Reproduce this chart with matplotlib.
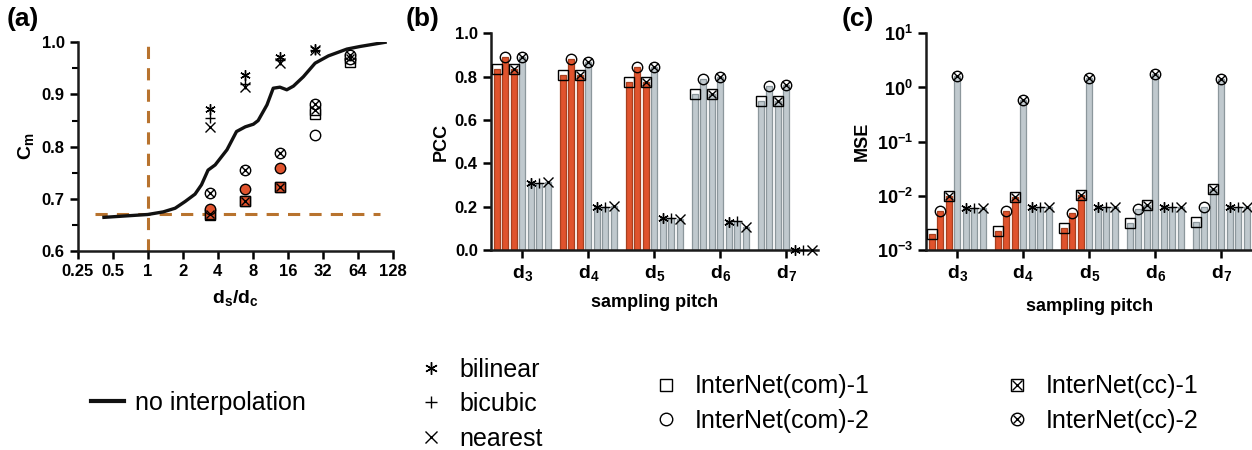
import numpy as np
import matplotlib
matplotlib.use("Agg")
import matplotlib.pyplot as plt
from matplotlib.lines import Line2D
from matplotlib.ticker import NullLocator, MultipleLocator

plt.rcParams['font.family'] = ['Liberation Sans', 'DejaVu Sans']
plt.rcParams['font.weight'] = 'bold'
plt.rcParams['mathtext.fontset'] = 'custom'
plt.rcParams['mathtext.rm'] = 'Liberation Sans:bold'
plt.rcParams['mathtext.it'] = 'Liberation Sans:bold'
plt.rcParams['mathtext.bf'] = 'Liberation Sans:bold'
plt.rcParams['mathtext.default'] = 'regular'

# ---- data ----
pitch_labels = ['$d_3$', '$d_4$', '$d_5$', '$d_6$', '$d_7$']
methods = ['InterNet(com)-1', 'InterNet(com)-2', 'InterNet(cc)-1', 'InterNet(cc)-2',
           'bilinear', 'bicubic', 'nearest']

# panel (a): curve without interpolation
curve_x = [0.42, 1.0, 1.36, 1.72, 2.1, 2.55, 2.9, 3.3, 3.8, 4.8, 5.8, 6.9, 8.1, 8.9,
           10.6, 12.0, 13.7, 15.7, 17.9, 21.8, 27.5, 35.8, 51.6, 67, 110]
curve_y = [0.6645, 0.670, 0.675, 0.682, 0.695, 0.709, 0.727, 0.755, 0.765, 0.794, 0.829,
           0.838, 0.843, 0.850, 0.880, 0.912, 0.914, 0.909, 0.916, 0.934, 0.960, 0.974,
           0.987, 0.992, 1.000]
ratio = [3.43, 6.87, 13.7, 27.5, 55]
cm_com1 = [0.669, 0.695, 0.722, 0.863, 0.963]
cm_com2 = [0.680, 0.718, 0.760, 0.822, 0.968]
cm_cc1 = [0.670, 0.695, 0.722, 0.870, 0.970]
cm_cc2 = [0.711, 0.755, 0.788, 0.882, 0.976]
cm_bil = [0.873, 0.937, 0.971, 0.987]
cm_bic = [0.854, 0.921, 0.966, 0.986]
cm_nea = [0.838, 0.914, 0.960, 0.986]

# panel (b): PCC
pcc_com1 = [0.834, 0.808, 0.777, 0.720, 0.689]
pcc_com2 = [0.889, 0.880, 0.846, 0.788, 0.758]
pcc_cc1 = [0.834, 0.808, 0.777, 0.720, 0.689]
pcc_cc2 = [0.890, 0.868, 0.846, 0.797, 0.763]
pcc_bil = [0.308, 0.200, 0.146, 0.131, 0.0]
pcc_bic = [0.310, 0.200, 0.146, 0.134, 0.0]
pcc_nea = [0.315, 0.205, 0.143, 0.108, 0.0]

# panel (c): MSE
mse_com1 = [2.0e-3, 2.24e-3, 2.58e-3, 3.1e-3, 3.33e-3]
mse_com2 = [5.3e-3, 5.3e-3, 4.75e-3, 5.7e-3, 6.1e-3]
mse_cc1 = [9.9e-3, 9.4e-3, 1.04e-2, 6.76e-3, 1.32e-2]
mse_cc2 = [1.65, 0.587, 1.5, 1.77, 1.44]
mse_bil = [5.9e-3, 6.3e-3, 6.3e-3, 6.3e-3, 6.3e-3]
mse_bic = [5.9e-3, 6.3e-3, 6.3e-3, 6.3e-3, 6.3e-3]
mse_nea = [5.9e-3, 6.3e-3, 6.3e-3, 6.3e-3, 6.3e-3]

RED = '#E0532D'
RED_EDGE = '#A8401F'
GRAY = '#C0C9CE'
GRAY_EDGE = '#8C979C'
BROWN = '#B8732E'

# marker styles per method: list of (marker, size scale)
mk = {
    'InterNet(com)-1': [('s', 1.0)],
    'InterNet(com)-2': [('o', 1.0)],
    'InterNet(cc)-1': [('s', 1.0), ('x', 0.75)],
    'InterNet(cc)-2': [('o', 1.0), ('x', 0.7)],
    'bilinear': [((6, 2, 0), 1.0)],
    'bicubic': [('+', 1.0)],
    'nearest': [('x', 1.0)],
}
MS = 7.5


def draw_markers(ax, x, y, name, face='none', zorder=4):
    for i, (m, s) in enumerate(mk[name]):
        fc = face if i == 0 else 'none'
        ax.plot(x, y, linestyle='none', marker=m, markersize=MS * s,
                markerfacecolor=fc, markeredgecolor='black', markeredgewidth=1.0,
                zorder=zorder + i, clip_on=False)


def style_axis(ax):
    for s in ['top', 'right']:
        ax.spines[s].set_visible(False)
    for s in ['left', 'bottom']:
        ax.spines[s].set_linewidth(1.8)
        ax.spines[s].set_color('#1a1a1a')
    ax.tick_params(which='major', direction='out', length=6, width=1.8, labelsize=12)
    ax.tick_params(which='minor', direction='out', length=4, width=1.5)
    for lab in ax.get_xticklabels() + ax.get_yticklabels():
        lab.set_fontweight('bold')


fig = plt.figure(figsize=(12.52, 4.5), dpi=100)

# ---- panel (a) ----
axa = fig.add_axes([0.0621, 0.4422, 0.2516, 0.4638])
axa.set_xscale('log', base=2)
axa.set_xlim(0.25, 128)
axa.set_ylim(0.6, 1.0)
xt = [0.25, 0.5, 1, 2, 4, 8, 16, 32, 64, 128]
axa.set_xticks(xt)
axa.set_xticklabels(['0.25', '0.5', '1', '2', '4', '8', '16', '32', '64', '128'])
axa.xaxis.set_minor_locator(NullLocator())
axa.set_yticks([0.6, 0.7, 0.8, 0.9, 1.0])
axa.set_yticklabels(['0.6', '0.7', '0.8', '0.9', '1.0'])
axa.yaxis.set_minor_locator(MultipleLocator(0.05))
axa.plot([1, 1], [0.6, 1.0], color=BROWN, lw=2.2, ls=(0, (4, 3)), zorder=2)
axa.plot([0.35, 100], [0.67, 0.67], color=BROWN, lw=2.2, ls=(0, (4, 3)), zorder=2)
axa.plot(curve_x, curve_y, color='#111111', lw=2.4, zorder=3)
n_red = 3
for name, vals in [('InterNet(com)-1', cm_com1), ('InterNet(cc)-1', cm_cc1),
                   ('InterNet(com)-2', cm_com2), ('InterNet(cc)-2', cm_cc2)]:
    for i, v in enumerate(vals):
        face = RED if (i < n_red and name != 'InterNet(cc)-2') else 'white'
        draw_markers(axa, ratio[i], v, name, face=face)
for name, vals in [('bilinear', cm_bil), ('bicubic', cm_bic), ('nearest', cm_nea)]:
    draw_markers(axa, ratio[:len(vals)], vals, name)
style_axis(axa)
axa.set_xlabel('$d_s/d_c$', fontsize=14, fontweight='bold', labelpad=6)
axa.set_ylabel('$C_m$', fontsize=14, fontweight='bold', labelpad=4)

# ---- bar panels ----
group_x = np.arange(len(pitch_labels))
step = 0.129
width = 0.09


def bar_panel(ax, series):
    for j, (name, vals) in enumerate(series):
        xs = group_x + (j - 3) * step
        for g, v in enumerate(vals):
            is_red = (g < 3 and j < 3)
            fc = RED if is_red else GRAY
            ec = RED_EDGE if is_red else GRAY_EDGE
            ax.bar(xs[g], v, width=width, color=fc, edgecolor=ec, linewidth=0.9, zorder=2)
        draw_markers(ax, xs, vals, name)
    ax.set_xticks(group_x)
    ax.set_xticklabels(pitch_labels, fontsize=14)
    ax.set_xlim(-0.474, 4.48)


axb = fig.add_axes([0.3922, 0.4444, 0.2612, 0.4816])
bar_panel(axb, [('InterNet(com)-1', pcc_com1), ('InterNet(com)-2', pcc_com2),
                ('InterNet(cc)-1', pcc_cc1), ('InterNet(cc)-2', pcc_cc2),
                ('bilinear', pcc_bil), ('bicubic', pcc_bic), ('nearest', pcc_nea)])
axb.set_ylim(0, 1.0)
axb.set_yticks([0.0, 0.2, 0.4, 0.6, 0.8, 1.0])
axb.set_yticklabels(['0.0', '0.2', '0.4', '0.6', '0.8', '1.0'])
style_axis(axb)
axb.tick_params(axis='x', labelsize=14)
axb.set_xlabel('sampling pitch', fontsize=13, fontweight='bold', labelpad=8)
axb.set_ylabel('PCC', fontsize=13, fontweight='bold', labelpad=4)

axc = fig.add_axes([0.7396, 0.4444, 0.2612, 0.4816])
axc.set_yscale('log')
bar_panel(axc, [('InterNet(com)-1', mse_com1), ('InterNet(com)-2', mse_com2),
                ('InterNet(cc)-1', mse_cc1), ('InterNet(cc)-2', mse_cc2),
                ('bilinear', mse_bil), ('bicubic', mse_bic), ('nearest', mse_nea)])
axc.set_ylim(1e-3, 10)
axc.set_yticks([1e-3, 1e-2, 1e-1, 1, 10])
axc.set_yticklabels(['$10^{-3}$', '$10^{-2}$', '$10^{-1}$', '$10^{0}$', '$10^{1}$'])
axc.yaxis.set_minor_locator(NullLocator())
style_axis(axc)
axc.tick_params(axis='y', labelsize=13)
axc.tick_params(axis='x', labelsize=14)
axc.set_xlabel('sampling pitch', fontsize=13, fontweight='bold', labelpad=11)
axc.set_ylabel('MSE', fontsize=13, fontweight='bold', labelpad=4)

# panel letters
for x, lab in [(0.005, '(a)'), (0.324, '(b)'), (0.672, '(c)')]:
    fig.text(x, 0.958, lab, fontsize=19, fontweight='bold', va='center', ha='left')


# ---- legends ----
def handle(name):
    hs = []
    for i, (m, s) in enumerate(mk[name]):
        hs.append(Line2D([], [], linestyle='none', marker=m, markersize=MS * s * 1.2,
                         markerfacecolor='none', markeredgecolor='black', markeredgewidth=1.0))
    return tuple(hs) if len(hs) > 1 else hs[0]


leg_kw = dict(frameon=False, prop={'family': 'Liberation Sans', 'weight': 'normal', 'size': 18},
              handlelength=1.4, handletextpad=0.45, labelspacing=0.42, borderaxespad=0)

line_h = Line2D([], [], color='#111111', lw=3)
l1 = fig.legend([line_h], ['no interpolation'], loc='center left',
                bbox_to_anchor=(0.065, 0.104), handlelength=1.3,
                **{k: v for k, v in leg_kw.items() if k != 'handlelength'})
l2 = fig.legend([handle(n) for n in ['bilinear', 'bicubic', 'nearest']],
                ['bilinear', 'bicubic', 'nearest'], loc='center left',
                bbox_to_anchor=(0.322, 0.102), **leg_kw)
l3 = fig.legend([handle(n) for n in ['InterNet(com)-1', 'InterNet(com)-2']],
                ['InterNet(com)-1', 'InterNet(com)-2'], loc='center left',
                bbox_to_anchor=(0.51, 0.103), **leg_kw)
l4 = fig.legend([handle(n) for n in ['InterNet(cc)-1', 'InterNet(cc)-2']],
                ['InterNet(cc)-1', 'InterNet(cc)-2'], loc='center left',
                bbox_to_anchor=(0.79, 0.103), **leg_kw)

fig.savefig('out.png', dpi=100)
